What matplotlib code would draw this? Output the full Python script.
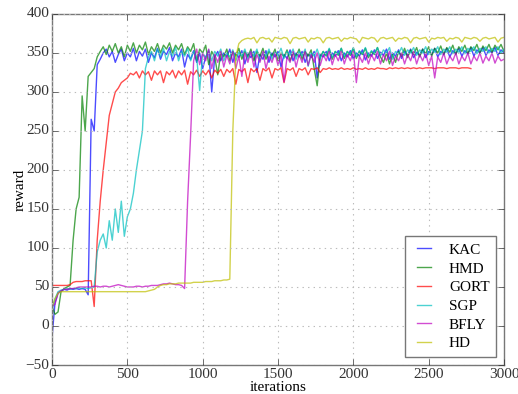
import numpy as np
import matplotlib
matplotlib.use("Agg")
import matplotlib.pyplot as plt

# iterations are logged every 20 steps
step = 20

kac = [
    -15, 30, 42, 45, 47, 46, 48, 47, 48, 47,
    48, 47, 40, 265, 250, 335, 342, 350, 355, 345,
    352, 338, 348, 355, 340, 350, 345, 356, 340, 352,
    346, 355, 338, 350, 344, 356, 342, 352, 348, 357,
    340, 350, 345, 355, 332, 348, 342, 353, 338, 350,
    330, 345, 352, 300, 345, 352, 340, 350, 345, 355,
    338, 350, 344, 353, 336, 350, 344, 352, 325, 348,
    342, 353, 338, 350, 345, 352, 332, 348, 343, 354,
    340, 350, 345, 352, 338, 349, 344, 352, 318, 348,
    345, 352, 340, 350, 346, 353, 340, 350, 345, 353,
    342, 350, 346, 354, 341, 350, 346, 354, 343, 351,
    347, 355, 342, 350, 346, 354, 343, 352, 347, 355,
    344, 351, 347, 355, 344, 352, 348, 356, 345, 352,
    348, 356, 345, 353, 349, 356, 346, 353, 349, 357,
    346, 354, 350, 357, 347, 354, 350, 357, 347, 354,
    350,
]

hmd = [
    25, 15, 18, 44, 48, 50, 52, 110, 150, 165,
    295, 250, 320, 325, 330, 345, 352, 358, 348, 360,
    352, 362, 350, 358, 345, 360, 352, 363, 350, 360,
    354, 364, 348, 358, 352, 362, 350, 360, 355, 363,
    350, 360, 354, 362, 348, 358, 352, 362, 340, 355,
    350, 360, 335, 352, 345, 322, 350, 345, 355, 340,
    352, 346, 356, 342, 352, 345, 355, 340, 352, 346,
    356, 342, 352, 346, 355, 340, 350, 345, 354, 340,
    350, 346, 355, 342, 352, 346, 354, 330, 308, 345,
    352, 346, 355, 342, 352, 347, 356, 343, 352, 347,
    356, 343, 352, 348, 356, 344, 352, 348, 357, 345,
    338, 350, 336, 348, 338, 352, 346, 356, 344, 354,
    348, 357, 345, 355, 349, 358, 346, 356, 350, 359,
    348, 357, 351, 360, 348, 358, 352, 360, 349, 358,
    353, 361, 350, 359, 353, 361, 351, 360, 354, 361,
    352,
]

gort = [
    52, 52, 52, 52, 52, 52, 53, 56, 57, 57,
    57, 58, 58, 58, 25, 110, 160, 200, 235, 270,
    285, 300, 305, 312, 315, 318, 324, 322, 326, 318,
    327, 322, 326, 315, 327, 322, 327, 312, 326, 322,
    328, 318, 327, 322, 328, 310, 326, 322, 328, 320,
    327, 322, 328, 318, 328, 324, 329, 320, 329, 325,
    330, 310, 329, 326, 330, 312, 330, 326, 330, 315,
    330, 327, 331, 318, 330, 328, 331, 312, 330, 328,
    331, 320, 330, 328, 331, 322, 330, 329, 331, 325,
    330, 329, 331, 329, 330, 329, 331, 329, 330, 329,
    331, 329, 330, 329, 331, 329, 330, 329, 331, 330,
    330, 329, 331, 330, 331, 330, 331, 330, 331, 330,
    331, 330, 331, 330, 331, 331, 331, 330, 331, 331,
    331, 330, 331, 331, 331, 330, 331, 331, 331, 330,
]

sgp = [
    20, 35, 44, 46, 47, 48, 47, 48, 48, 49,
    48, 49, 48, 49, 50, 95, 110, 118, 100, 135,
    110, 150, 120, 160, 115, 140, 150, 170, 200, 225,
    250, 330, 345, 352, 340, 355, 345, 356, 340, 352,
    346, 357, 340, 352, 346, 356, 340, 352, 345, 302,
    350, 344, 354, 340, 352, 346, 355, 340, 350, 345,
    354, 340, 351, 346, 355, 342, 352, 346, 355, 340,
    350, 346, 355, 342, 351, 347, 356, 343, 352, 347,
    355, 342, 352, 346, 355, 333, 350, 346, 355, 343,
    352, 347, 356, 344, 352, 348, 356, 345, 352, 348,
    357, 345, 353, 349, 357, 346, 353, 349, 357, 346,
    354, 350, 357, 342, 352, 349, 357, 347, 354, 350,
    357, 347, 354, 350, 358, 348, 355, 351, 358, 348,
    355, 351, 358, 349, 355, 351, 358, 349, 356, 352,
    358, 349, 356, 352, 358, 350, 356, 352, 358, 350,
    355,
]

bfly = [
    25, 28, 42, 45, 47, 47, 48, 48, 49, 50,
    50, 50, 50, 50, 51, 51, 50, 51, 51, 50,
    51, 52, 53, 52, 51, 50, 50, 50, 51, 51,
    50, 51, 51, 52, 52, 52, 53, 54, 54, 55,
    54, 53, 53, 52, 48, 160, 245, 340, 355, 335,
    350, 340, 355, 330, 348, 338, 352, 332, 347, 336,
    352, 330, 346, 320, 350, 338, 352, 332, 348, 338,
    352, 330, 346, 338, 350, 334, 348, 313, 345, 338,
    352, 332, 348, 338, 352, 334, 348, 338, 350, 334,
    348, 340, 352, 335, 348, 340, 352, 336, 348, 340,
    352, 312, 346, 338, 350, 336, 348, 340, 352, 336,
    348, 340, 352, 334, 346, 340, 350, 336, 348, 340,
    352, 336, 348, 340, 350, 334, 346, 318, 345, 338,
    350, 336, 346, 340, 350, 336, 346, 340, 350, 336,
    346, 340, 350, 337, 346, 340, 350, 337, 346, 340,
    342,
]

hd = [
    24, 35, 42, 44, 44, 44, 44, 44, 44, 44,
    44, 44, 44, 44, 44, 44, 44, 44, 44, 44,
    44, 44, 44, 44, 44, 44, 44, 44, 44, 44,
    44, 44, 45, 46, 47, 50, 52, 53, 53, 54,
    54, 54, 55, 55, 55, 55, 55, 56, 56, 56,
    56, 57, 57, 57, 58, 58, 58, 59, 59, 60,
    250, 345, 362, 366, 368, 369, 368, 370, 363, 369,
    370, 368, 369, 364, 370, 369, 368, 370, 369, 362,
    369, 370, 368, 369, 370, 364, 369, 368, 370, 369,
    363, 369, 370, 368, 369, 370, 365, 369, 368, 370,
    369, 368, 363, 370, 369, 368, 370, 369, 364, 369,
    370, 368, 369, 370, 365, 369, 368, 370, 369, 363,
    369, 370, 368, 369, 370, 364, 369, 368, 370, 369,
    370, 365, 369, 368, 370, 369, 364, 370, 369, 368,
    370, 369, 365, 369, 370, 368, 369, 370, 364, 369,
    370,
]

names = ["KAC", "HMD", "GORT", "SGP", "BFLY", "HD"]
series = [kac, hmd, gort, sgp, bfly, hd]
colors = ["b", "g", "r", "c", "m", "y"]

plt.style.use("classic")
plt.rcParams["font.family"] = ["Liberation Serif", "DejaVu Serif"]

fig = plt.figure(figsize=(5.18, 3.94), dpi=100)
ax = fig.add_axes([0.1004, 0.0736, 0.8726, 0.8909])

for name, vals, col in zip(names, series, colors):
    its = np.arange(len(vals)) * step
    ax.plot(its, vals, color=col, alpha=0.7, linewidth=1.0, label=name)

ax.set_xlim(0, 3000)
ax.set_ylim(-50, 400)
ax.set_xticks([0, 500, 1000, 1500, 2000, 2500, 3000])
ax.set_yticks(range(-50, 401, 50))
ax.grid(True, color="#bbbbbb", linestyle=":", linewidth=0.8)
ax.tick_params(labelsize=11, direction="in", length=4, colors="#333333", pad=2)
for s in ax.spines.values():
    s.set_color("#777777")
ax.set_xlabel("iterations", fontsize=11, labelpad=0)
ax.set_ylabel("reward", fontsize=11, labelpad=-1)

leg = ax.legend(loc="lower right", fontsize=11, handlelength=1.5,
                labelspacing=0.33, borderaxespad=0.5, handletextpad=0.9,
                borderpad=0.45)
leg.get_frame().set_edgecolor("#777777")

fig.savefig("out.png", dpi=100)
